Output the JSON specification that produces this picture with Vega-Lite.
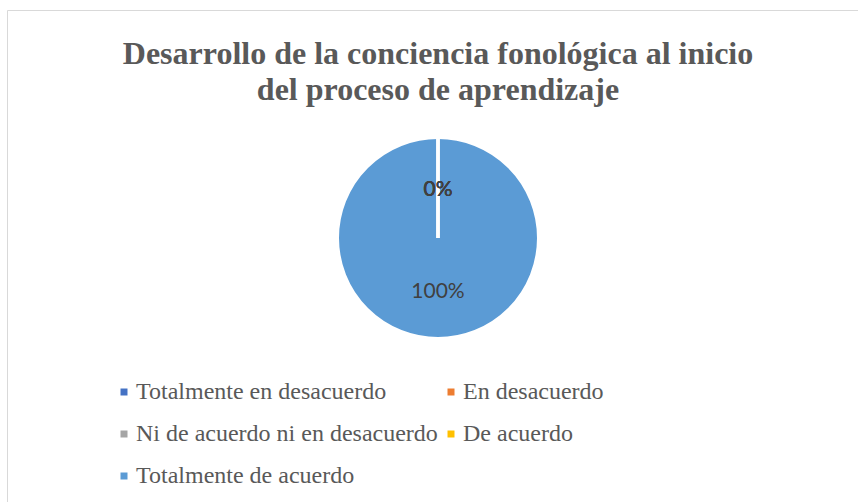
{
  "$schema": "https://vega.github.io/schema/vega-lite/v6.json",
  "autosize": "none",
  "width": 862,
  "height": 500,
  "padding": {"left": 7, "top": 10, "right": -11, "bottom": -8},
  "background": "#ffffff",
  "view": {"stroke": "#d9d9d9", "strokeWidth": 1},
  "config": {
    "view": {"stroke": "#d9d9d9", "strokeWidth": 1},
    "style": {"view": {"stroke": "#d9d9d9", "strokeWidth": 1}}
  },
  "title": {
    "text": ["Desarrollo de la conciencia fonológica al inicio", "del proceso de aprendizaje"],
    "font": "Liberation Serif",
    "fontSize": 32,
    "fontWeight": "bold",
    "color": "#595959",
    "lineHeight": 36,
    "anchor": "middle",
    "offset": -97
  },
  "data": {
    "values": [
      {"categoria": "Totalmente de acuerdo", "valor": 1},
      {"categoria": "Totalmente en desacuerdo", "valor": 0},
      {"categoria": "En desacuerdo", "valor": 0},
      {"categoria": "Ni de acuerdo ni en desacuerdo", "valor": 0},
      {"categoria": "De acuerdo", "valor": 0}
    ]
  },
  "encoding": {
    "theta": {"field": "valor", "type": "quantitative", "stack": true},
    "color": {
      "field": "categoria",
      "type": "nominal",
      "sort": null,
      "scale": {
        "domain": ["Totalmente en desacuerdo", "En desacuerdo", "Ni de acuerdo ni en desacuerdo", "De acuerdo", "Totalmente de acuerdo"],
        "range": ["#4472C4", "#ED7D31", "#A5A5A5", "#FFC000", "#5B9BD5"]
      },
      "legend": {
        "orient": "none",
        "legendX": 104,
        "legendY": 370,
        "direction": "horizontal",
        "columns": 2,
        "title": null,
        "padding": 0,
        "symbolType": "square",
        "symbolSize": 49,
        "symbolStrokeWidth": 0,
        "symbolOffset": 1,
        "labelFont": "Liberation Serif",
        "labelFontSize": 24,
        "labelColor": "#595959",
        "labelOffset": 0,
        "labelLimit": 0,
        "columnPadding": 0,
        "rowPadding": 18
      }
    }
  },
  "layer": [
    {
      "mark": {"type": "arc", "radius": 100.5, "stroke": "#ffffff", "strokeWidth": 3, "y": {"expr": "height/2 - 22"}}
    },
    {
      "mark": {"type": "text", "radius": 51, "dy": 3, "font": "Lato", "fontSize": 21, "align": "center", "baseline": "middle", "y": {"expr": "height/2 - 22"}},
      "encoding": {
        "text": {"field": "valor", "type": "quantitative", "format": ".0%"},
        "color": {"value": "#404040"}
      }
    }
  ]
}
